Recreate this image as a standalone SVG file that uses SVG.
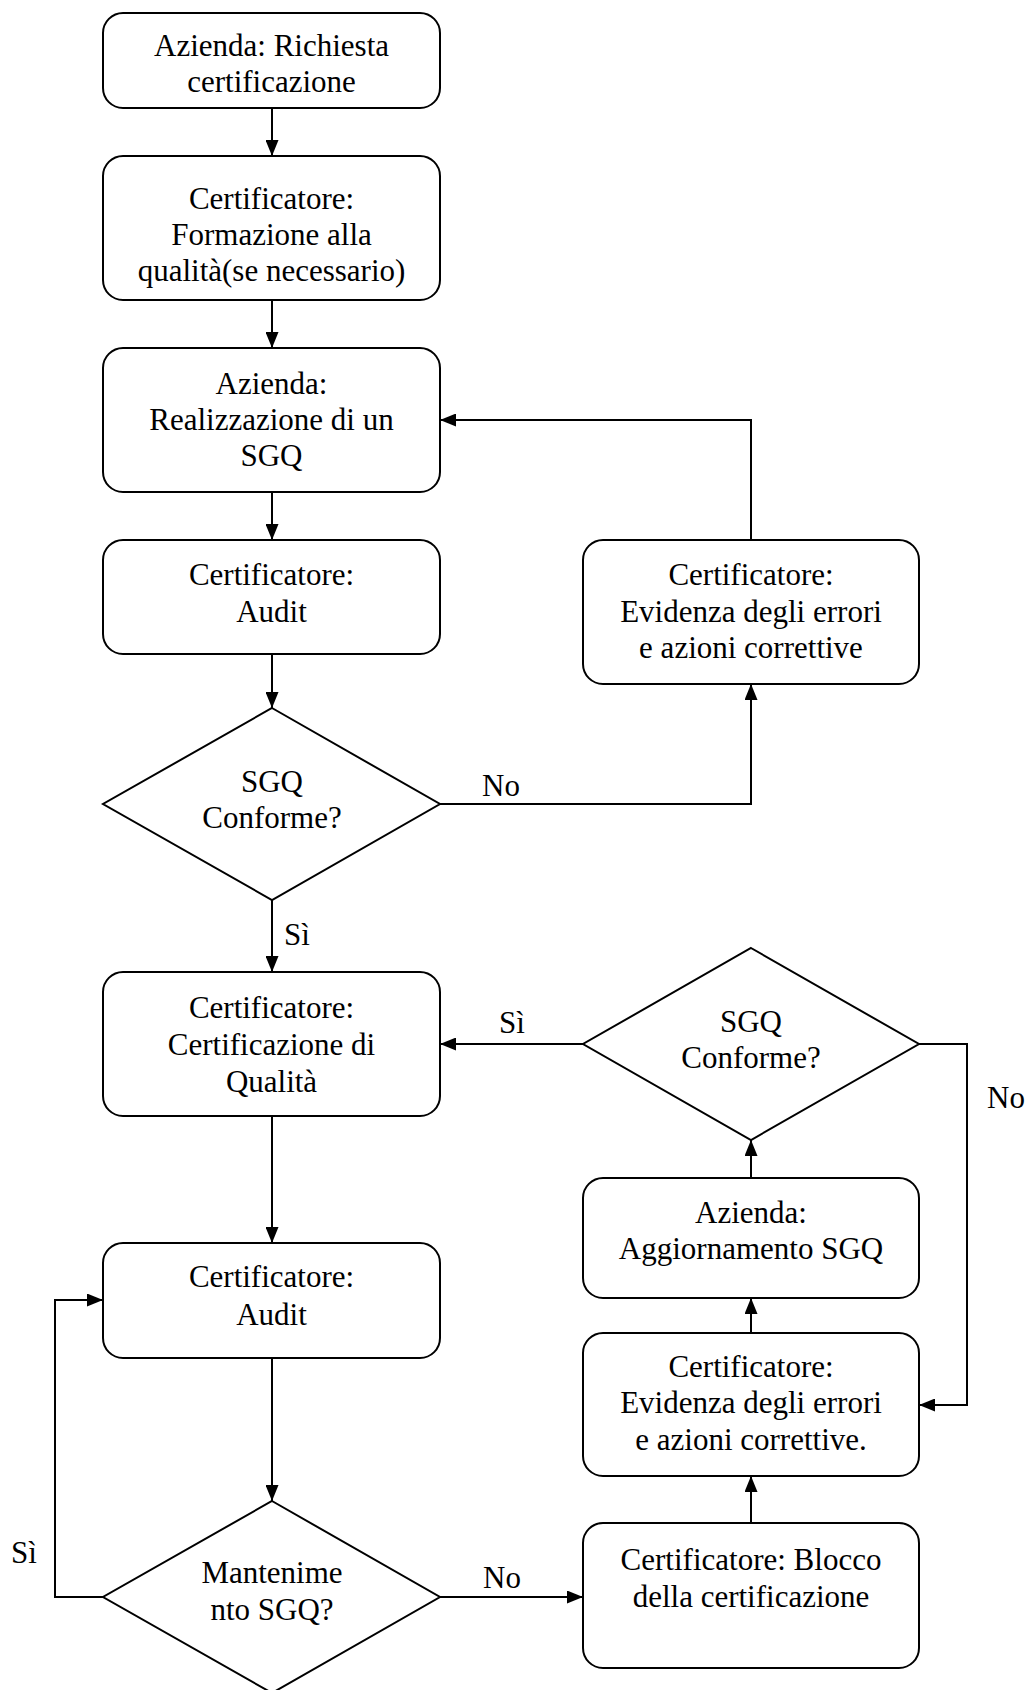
<svg xmlns="http://www.w3.org/2000/svg" width="1029" height="1690" viewBox="0 0 1029 1690">
<style>
.box{fill:#fff;stroke:#000;stroke-width:2}
.t{font-family:"Liberation Serif","Times New Roman",serif;font-size:31px;fill:#000;text-anchor:middle}
.c{fill:none;stroke:#000;stroke-width:2}
</style>
<defs>
<marker id="ah" markerUnits="userSpaceOnUse" markerWidth="16" markerHeight="13" refX="16" refY="6.5" orient="auto">
<path d="M0,0 L16,6.5 L0,13 z" fill="#000"/>
</marker>
</defs>
<rect width="1029" height="1690" fill="#fff"/>
<g id="connectors">
<path class="c" d="M272,108 V156" marker-end="url(#ah)"/>
<path class="c" d="M272,300 V348" marker-end="url(#ah)"/>
<path class="c" d="M272,492 V540" marker-end="url(#ah)"/>
<path class="c" d="M272,654 V708" marker-end="url(#ah)"/>
<path class="c" d="M440,804 H751 V684" marker-end="url(#ah)"/>
<path class="c" d="M751,540 V420 H440" marker-end="url(#ah)"/>
<path class="c" d="M272,900 V972" marker-end="url(#ah)"/>
<path class="c" d="M583,1044 H440" marker-end="url(#ah)"/>
<path class="c" d="M272,1116 V1243" marker-end="url(#ah)"/>
<path class="c" d="M272,1358 V1501" marker-end="url(#ah)"/>
<path class="c" d="M103,1597 H55 V1300 H103" marker-end="url(#ah)"/>
<path class="c" d="M440,1597 H583" marker-end="url(#ah)"/>
<path class="c" d="M751,1523 V1476" marker-end="url(#ah)"/>
<path class="c" d="M751,1333 V1298" marker-end="url(#ah)"/>
<path class="c" d="M751,1178 V1140" marker-end="url(#ah)"/>
<path class="c" d="M919,1044 H967 V1405 H919" marker-end="url(#ah)"/>
<text class="t" x="501" y="796">No</text>
<text class="t" x="297" y="945">Sì</text>
<text class="t" x="512" y="1033">Sì</text>
<text class="t" x="1006" y="1108">No</text>
<text class="t" x="24" y="1563">Sì</text>
<text class="t" x="502" y="1588">No</text>
</g>
<g id="n1"><rect class="box" x="103" y="13" width="337" height="95" rx="20"/>
<text class="t" x="271.5" y="56">Azienda: Richiesta</text><text class="t" x="271.5" y="92">certificazione</text></g>
<g id="n2"><rect class="box" x="103" y="156" width="337" height="144" rx="20"/>
<text class="t" x="271.5" y="209">Certificatore:</text><text class="t" x="271.5" y="245">Formazione alla</text><text class="t" x="271.5" y="281">qualità(se necessario)</text></g>
<g id="n3"><rect class="box" x="103" y="348" width="337" height="144" rx="20"/>
<text class="t" x="271.5" y="394">Azienda:</text><text class="t" x="271.5" y="430">Realizzazione di un</text><text class="t" x="271.5" y="466">SGQ</text></g>
<g id="n4"><rect class="box" x="103" y="540" width="337" height="114" rx="20"/>
<text class="t" x="271.5" y="585">Certificatore:</text><text class="t" x="271.5" y="622">Audit</text></g>
<g id="e1"><rect class="box" x="583" y="540" width="336" height="144" rx="20"/>
<text class="t" x="751" y="585">Certificatore:</text><text class="t" x="751" y="622">Evidenza degli errori</text><text class="t" x="751" y="658">e azioni correttive</text></g>
<g id="d1"><polygon class="box" points="272,708 440,804 272,900 103,804"/>
<text class="t" x="272" y="792">SGQ</text><text class="t" x="272" y="828">Conforme?</text></g>
<g id="n5"><rect class="box" x="103" y="972" width="337" height="144" rx="20"/>
<text class="t" x="271.5" y="1018">Certificatore:</text><text class="t" x="271.5" y="1055">Certificazione di</text><text class="t" x="271.5" y="1092">Qualità</text></g>
<g id="d2"><polygon class="box" points="751,948 919,1044 751,1140 583,1044"/>
<text class="t" x="751" y="1032">SGQ</text><text class="t" x="751" y="1068">Conforme?</text></g>
<g id="agg"><rect class="box" x="583" y="1178" width="336" height="120" rx="20"/>
<text class="t" x="751" y="1223">Azienda:</text><text class="t" x="751" y="1259">Aggiornamento SGQ</text></g>
<g id="e2"><rect class="box" x="583" y="1333" width="336" height="143" rx="20"/>
<text class="t" x="751" y="1377">Certificatore:</text><text class="t" x="751" y="1413">Evidenza degli errori</text><text class="t" x="751" y="1450">e azioni correttive.</text></g>
<g id="blk"><rect class="box" x="583" y="1523" width="336" height="145" rx="20"/>
<text class="t" x="751" y="1570">Certificatore: Blocco</text><text class="t" x="751" y="1607">della certificazione</text></g>
<g id="n6"><rect class="box" x="103" y="1243" width="337" height="115" rx="20"/>
<text class="t" x="271.5" y="1287">Certificatore:</text><text class="t" x="271.5" y="1325">Audit</text></g>
<g id="d3"><polygon class="box" points="272,1501 440,1597 272,1693 103,1597"/>
<text class="t" x="272" y="1583">Mantenime</text><text class="t" x="272" y="1620">nto SGQ?</text></g>
</svg>
